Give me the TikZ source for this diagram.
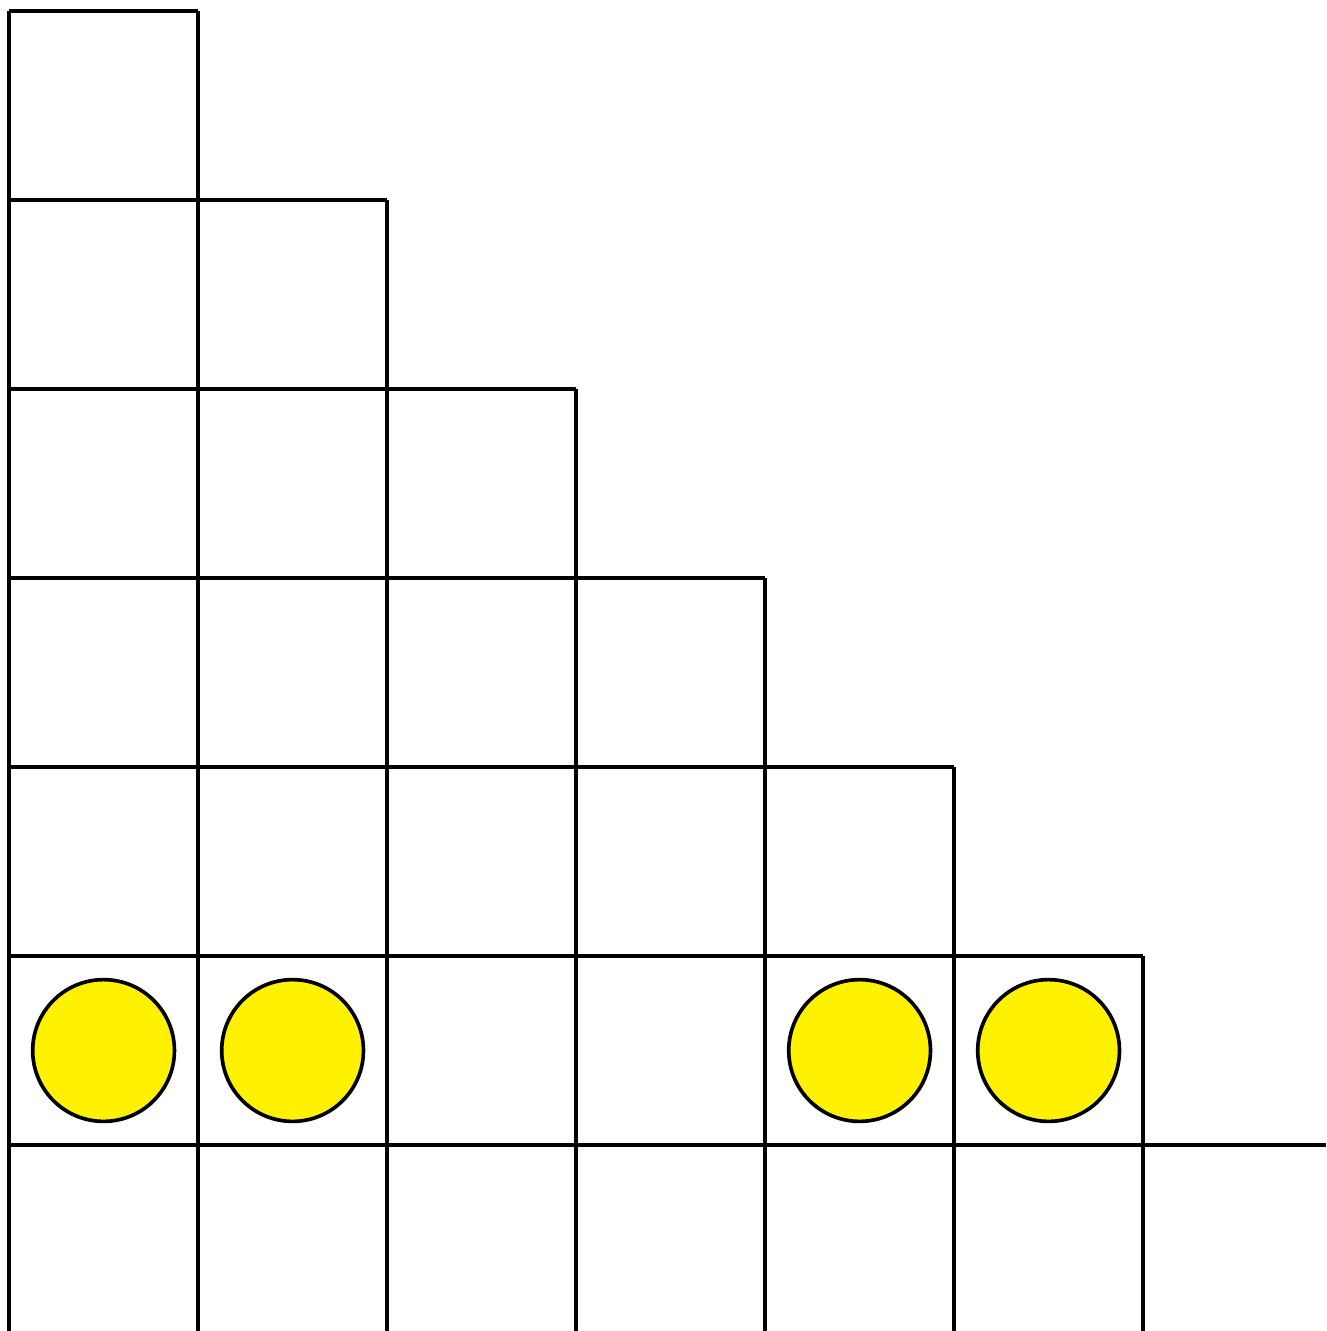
\documentclass[tikz,border=0pt]{standalone}
\usepackage{tikz}

\definecolor{tokenyellow}{RGB}{255,242,0}

\begin{document}
\begin{tikzpicture}[x=1cm,y=1cm,
    gridline/.style={line width=0.55pt,black},
    token/.style={circle,draw=black,line width=0.55pt,fill=tokenyellow,minimum size=0.75cm,inner sep=0pt}]
  \useasboundingbox (-0.048,-0.984) rectangle (6.968,6.058);
  % staircase: row \k has \k+1 cells
  \foreach \k in {0,...,5} {
    \draw[gridline] (0,6-\k) -- (\k+1,6-\k);
    \draw[gridline] (\k+1,6-\k) -- (\k+1,-0.984);
  }
  \draw[gridline] (0,6) -- (0,-0.984);
  \draw[gridline] (0,0) -- (6.968,0);
  % tokens in the bottom full row
  \foreach \c/\name in {0/ta,1/tb,4/tc,5/td} {
    \node[token] (\name) at (\c+0.5,0.5) {};
  }
\end{tikzpicture}
\end{document}
